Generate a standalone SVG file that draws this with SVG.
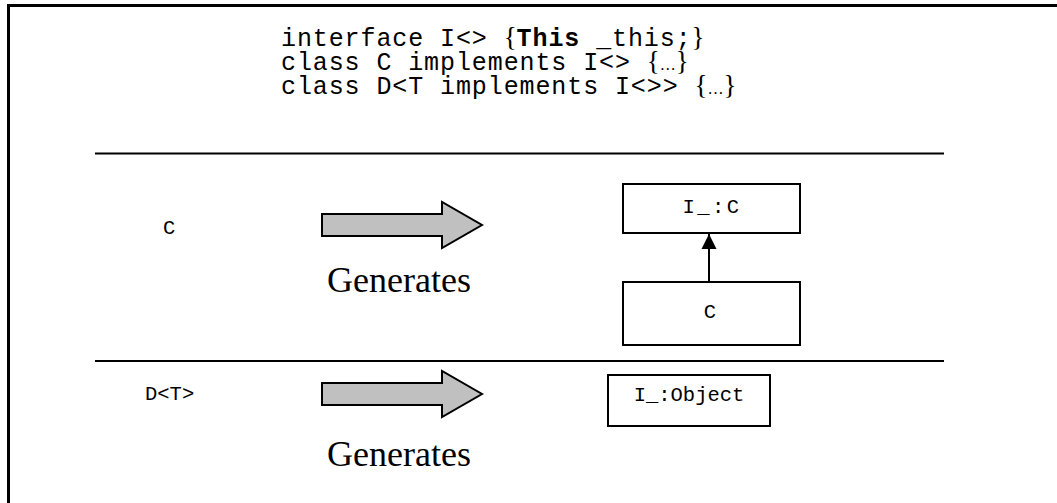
<svg xmlns="http://www.w3.org/2000/svg" width="1057" height="503" viewBox="0 0 1057 503">
<style>
.mono{font-family:"Liberation Mono","Courier New",monospace;fill:#000}
.code{font-size:25px;letter-spacing:0.9px}
.br{font-family:"Liberation Serif","Times New Roman",serif;font-size:27px;letter-spacing:0}
.el{font-family:"Liberation Serif","Times New Roman",serif;font-size:16px;letter-spacing:0}
.lbl{font-size:20.5px}
.serif{font-family:"Liberation Serif","Times New Roman",serif;fill:#000}
.gen{font-size:36px}
.box{fill:#fff;stroke:#000;stroke-width:2}
.fat{fill:#c0c0c0;stroke:#000;stroke-width:2;stroke-linejoin:miter}
.sep{stroke:#000;stroke-width:2}
</style>
<defs>
<marker id="tri" viewBox="0 0 10 10" refX="10" refY="5" markerWidth="15" markerHeight="17" markerUnits="userSpaceOnUse" orient="auto">
<path d="M0,0 L10,5 L0,10 Z" fill="#000"/>
</marker>
</defs>
<rect width="1057" height="503" fill="#fff"/>
<path d="M8.5,503 V5.5 H1057" fill="none" stroke="#000" stroke-width="3"/>
<g id="code">
<text class="mono code" x="281" y="46">interface I&lt;&gt; <tspan class="br">{</tspan><tspan font-weight="bold">This</tspan> _this;<tspan class="br">}</tspan></text>
<text class="mono code" x="281" y="70">class C implements I&lt;&gt; <tspan class="br">{</tspan><tspan class="el">…</tspan><tspan class="br">}</tspan></text>
<text class="mono code" x="281" y="94">class D&lt;T implements I&lt;&gt;&gt; <tspan class="br">{</tspan><tspan class="el">…</tspan><tspan class="br">}</tspan></text>
</g>
<line class="sep" x1="95" y1="153.5" x2="944" y2="153.5"/>
<line class="sep" x1="95" y1="361" x2="944" y2="361"/>
<g id="labelC"><text class="mono lbl" x="163" y="234">C</text></g>
<g id="labelD"><text class="mono lbl" x="145" y="400">D&lt;T&gt;</text></g>
<g id="arrow1">
<path class="fat" d="M322,214 H442 V202 L482,225 L442,248 V236 H322 Z"/>
<text class="serif gen" x="327" y="292">Generates</text>
</g>
<g id="arrow2">
<path class="fat" d="M322,383 H442 V371 L482,394 L442,417 V405 H322 Z"/>
<text class="serif gen" x="327" y="466">Generates</text>
</g>
<g id="IC">
<rect class="box" x="623" y="184" width="177" height="49"/>
<text class="mono lbl" x="712" y="213" text-anchor="middle" letter-spacing="2.5">I_:C</text>
</g>
<g id="C">
<rect class="box" x="623" y="282" width="177" height="63"/>
<text class="mono lbl" x="710" y="318" text-anchor="middle">C</text>
</g>
<g id="IObject">
<rect class="box" x="608" y="375" width="162" height="51"/>
<text class="mono lbl" x="689" y="401" text-anchor="middle">I_:Object</text>
</g>
<g id="connectors">
<line x1="709" y1="282" x2="709" y2="234" stroke="#000" stroke-width="2" marker-end="url(#tri)"/>
</g>
</svg>
